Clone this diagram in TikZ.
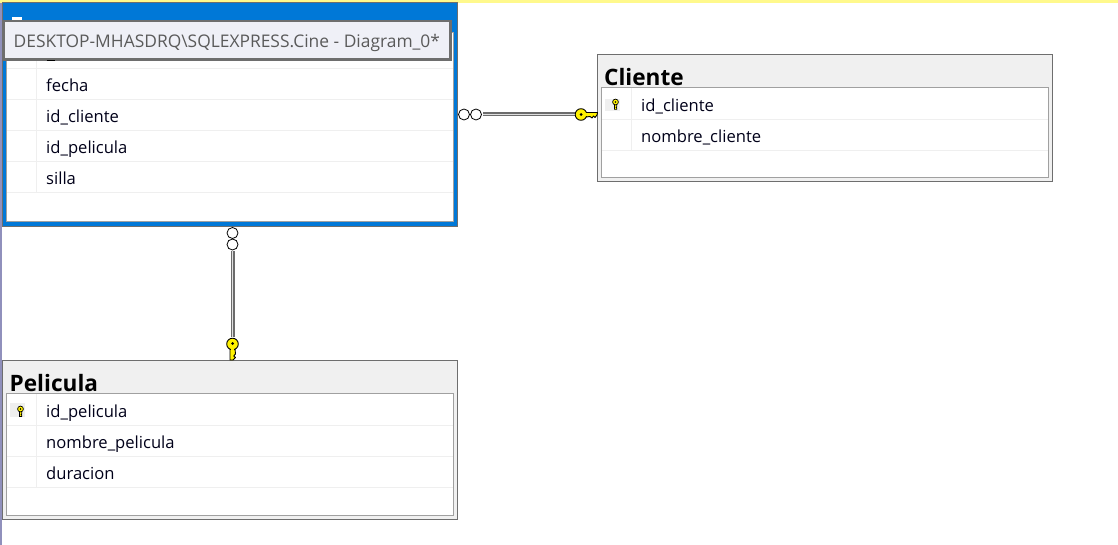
\documentclass[tikz,border=0pt]{standalone}
\usepackage{fontspec}
\setmainfont{Open Sans}
\definecolor{frameblue}{HTML}{0078D7}
\definecolor{edge}{HTML}{6E6E6E}
\definecolor{inner}{HTML}{A0A0A0}
\definecolor{head}{HTML}{F0F0F0}
\definecolor{rowline}{HTML}{EFEFEF}
\definecolor{tip}{HTML}{EFF0F7}
\definecolor{tiptext}{HTML}{5A5A5A}
\definecolor{keyy}{HTML}{FFF200}
\tikzset{
  x=1pt,y=-1pt,
  table/.style={draw=edge,line width=1pt,fill=head,anchor=north west,inner sep=0pt,outer sep=0pt},
  body/.style={draw=inner,line width=1pt,fill=white,anchor=north west,inner sep=0pt,outer sep=0pt},
  title/.style={anchor=base west,inner sep=0pt,font=\fontsize{22.6}{26}\selectfont\bfseries},
  col/.style={anchor=base west,inner sep=0pt,font=\fontsize{16.6}{20}\selectfont,text=black!90!blue},
  rowrule/.style={draw=rowline,line width=1pt},
  link/.style={draw=gray!85!black,line width=1.3pt,double=gray!25!white,double distance=1.4pt},
  ring/.style={circle,draw=black,fill=white,line width=.8pt,minimum size=11pt,inner sep=0pt,outer sep=0pt},
  keyshape/.style={draw=black,fill=keyy,line width=.9pt,line join=round},
}
% position, top and bottom of the grey cell behind the key
\newcommand{\keyglyph}[3]{%
  \begin{scope}[shift={(#1)}]
    \fill[rowline] (-10.5,#2) rectangle (4.5,#3);
    \draw[black,fill=keyy,line width=.7pt] (-1.1,0.6) -- (-1.1,5.6) -- (1.3,5.6) -- (1.3,4.4) -- (.6,3.8) -- (1.3,3) -- (1.1,.6) -- cycle;
    \draw[black,fill=keyy,line width=.7pt] (0,-1.8) circle (2.9);
    \fill[black] (0,-1.8) circle (.8);
  \end{scope}}
\begin{document}
\begin{tikzpicture}
\useasboundingbox (0,0) rectangle (1118,545);
\fill[white] (0,0) rectangle (1118,545);
\fill[yellow!45!white] (0,0) rectangle (1118,3);
\fill[blue!25!gray!70!white] (0,3) rectangle (2,545);

% selected table
\node[table,draw=edge,fill=frameblue,minimum width=455pt,minimum height=223.5pt] (reserva) at (2.5,3) {};
\node[body,minimum width=446.5pt,minimum height=189pt] (reservabody) at (6.5,33) {};
\draw[white,line width=3pt] (12,18.5) -- (22,18.5);
\foreach \y in {68.5,99.5,130.5,161.5,192.5} \draw[rowrule] (7,\y) -- (452.5,\y);
\draw[rowrule] (36.5,34) -- (36.5,192);
\node[col] (rfecha) at (46,91.6) {fecha};
\node[col] (rcli) at (46,122.6) {id\_cliente};
\node[col] (rpel) at (46,153.6) {id\_pelicula};
\node[col] (rsilla) at (46,184.6) {silla};

% Cliente
\node[table,minimum width=455pt,minimum height=127pt] (cliente) at (597.5,54.5) {};
\node[title] (clititle) at (604,85.7) {Cliente};
\node[body,minimum width=447pt,minimum height=90pt] (clibody) at (601.5,87.5) {};
\foreach \y in {119.5,150.5} \draw[rowrule] (602,\y) -- (1048,\y);
\draw[rowrule] (631.5,88) -- (631.5,150);
\keyglyph{615.5,103.8}{-4.8}{6.9}
\node[col] (c1) at (641,111.6) {id\_cliente};
\node[col] (c2) at (641,142.6) {nombre\_cliente};

% Pelicula
\node[table,minimum width=455pt,minimum height=159pt] (pelicula) at (2.5,360.5) {};
\node[title] (peltitle) at (9.5,391.2) {Pelicula};
\node[body,minimum width=447pt,minimum height=122pt] (pelbody) at (6.5,393.5) {};
\foreach \y in {425.5,456.5,487.5} \draw[rowrule] (7,\y) -- (453,\y);
\draw[rowrule] (36.5,394) -- (36.5,487);
\keyglyph{20.5,410.8}{-7.8}{6.2}
\node[col] (p1) at (46,417) {id\_pelicula};
\node[col] (p2) at (46,448) {nombre\_pelicula};
\node[col] (p3) at (46,479) {duracion};

% connector reserva -- cliente
\node[ring] (a1) at (464,114.5) {};
\node[ring] (a2) at (476,114.5) {};
\coordinate (a3) at (575,114.5);
\draw[link] (483,114.5) -- (a3);
\draw[keyshape] (586,112.5) -- (597.5,112.5) -- (597,115) -- (595,117.5) -- (593.5,116) -- (592,118) -- (590,116.5) -- (586,117) -- cycle;
\draw[keyshape] (581,114.5) circle (5.8);
\fill[keyy] (585,113.1) rectangle (588,116.2);
\fill[black] (581,114.5) circle (1.5);

% connector reserva -- pelicula
\node[ring] (b1) at (232.5,233) {};
\node[ring] (b2) at (232.5,244.5) {};
\coordinate (b3) at (232.5,337);
\draw[link] (232.5,251.5) -- (b3);
\draw[keyshape] (230,349) -- (230,360) -- (233,360) -- (235.5,357.5) -- (233.7,356) -- (235.5,354) -- (235,349) -- cycle;
\draw[keyshape] (232.5,344) circle (5.8);
\fill[keyy] (230.8,348) rectangle (234.2,351);
\fill[black] (232.5,343.5) circle (1.5);

% tooltip
\node[draw=edge,line width=2.4pt,fill=tip,anchor=north west,minimum width=447pt,minimum height=38.5pt,inner sep=0pt,outer sep=0pt] (tooltip) at (3.5,21) {};
\node[anchor=base west,inner sep=0pt,text=tiptext,font=\fontsize{17.4}{21}\selectfont] (tiptxt) at (13.5,47.5) {DESKTOP-MHASDRQ\textbackslash SQLEXPRESS.Cine - Diagram\_0*};
\draw[black,line width=1pt] (46.5,61) -- (55,61);
\end{tikzpicture}
\end{document}
